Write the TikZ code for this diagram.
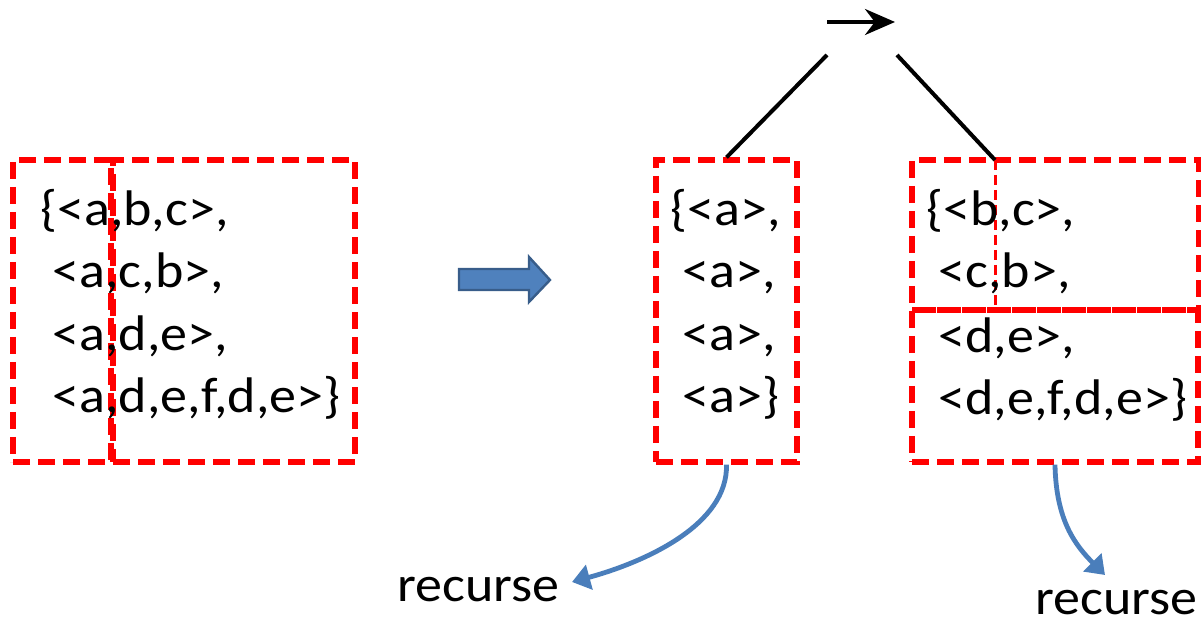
\documentclass[tikz,border=0pt]{standalone}
\usepackage{fontspec}
\setmainfont{Carlito}[FakeStretch=1.08]
\usetikzlibrary{arrows.meta,fit}
\definecolor{boxred}{HTML}{FF0000}
\definecolor{arrowblue}{HTML}{4A7EBB}
\definecolor{blockfill}{HTML}{4F81BD}
\definecolor{blockline}{HTML}{385D8A}
\begin{document}
\begin{tikzpicture}[x=0.5pt,y=-0.5pt,
  redbox/.style={draw=boxred, line width=2.6pt, dash pattern=on 8.5pt off 4pt, inner sep=0pt},
  thinsplit/.style={draw=boxred, line width=1.5pt, dash pattern=on 5pt off 2.5pt},
  seq/.style={anchor=base west, inner sep=0pt, font=\fontsize{25}{30}\selectfont},
  treeline/.style={draw=black, line width=2pt},
  recarrow/.style={draw=arrowblue, line width=2.4pt, -{Triangle[length=9pt,width=12.5pt]}},
  blockarrow/.style={fill=blockfill, draw=blockline, line width=1.2pt}
]
\useasboundingbox (0,0) rectangle (1201,625);

% input set: first column split from the rest
\node[redbox, fit={(13,160)(111,462)}] (A1) {};
\node[redbox, fit={(113,160)(355,462)}] (A2) {};
\node[seq] (a1) at (40,226) {\{<a,b,c>,};
\node[seq] (a2) at (40,288) {\ <a,c,b>,};
\node[seq] (a3) at (40,351) {\ <a,d,e>,};
\node[seq] (a4) at (40,413) {\ <a,d,e,f,d,e>\}};

% transformation arrow
\draw[blockarrow] (459,269) -- (529,269) -- (529,257) -- (550,280)
  -- (529,302) -- (529,290) -- (459,290) -- cycle;

% prefix projection
\node[redbox, fit={(656,160)(797,462)}] (B) {};
\node[seq] (b1) at (670,226) {\{<a>,};
\node[seq] (b2) at (670,288) {\ <a>,};
\node[seq] (b3) at (670,351) {\ <a>,};
\node[seq] (b4) at (670,413) {\ <a>\}};

% suffix projection, split into two groups
\node[redbox, fit={(912,160)(1199,310)}] (C1) {};
\node[redbox, fit={(912,310)(1198,462)}] (C2) {};
\coordinate (Ctop) at (995,160);
\coordinate (Cbot) at (995,310);
\draw[thinsplit] (Ctop) -- (Cbot);
\node[seq] (c1) at (926,226) {\{<b,c>,};
\node[seq] (c2) at (926,288) {\ <c,b>,};
\node[seq] (c3) at (926,353) {\ <d,e>,};
\node[seq] (c4) at (926,415) {\ <d,e,f,d,e>\}};

% tree head
\coordinate (hs) at (827,22);
\coordinate (he) at (895,22);
\draw[line width=1.8pt, -{Stealth[length=15pt,width=13pt]}] (hs) -- (he);
\coordinate (tl) at (827,55);
\coordinate (tr) at (897,55);
\draw[treeline] (tl) -- (B.north);
\draw[treeline] (tr) -- (Ctop);

% recursion
\node[seq] (rl) at (397,602) {recurse};
\node[seq] (rr) at (1035,615) {recurse};
\coordinate (tipL) at (572,582);
\coordinate (tipR) at (1105,575);
\draw[recarrow] (B.south) .. controls (728,525) and (645,562) .. (tipL);
\draw[recarrow] (C2.south) .. controls (1056,520) and (1075,545) .. (tipR);
\end{tikzpicture}
\end{document}
